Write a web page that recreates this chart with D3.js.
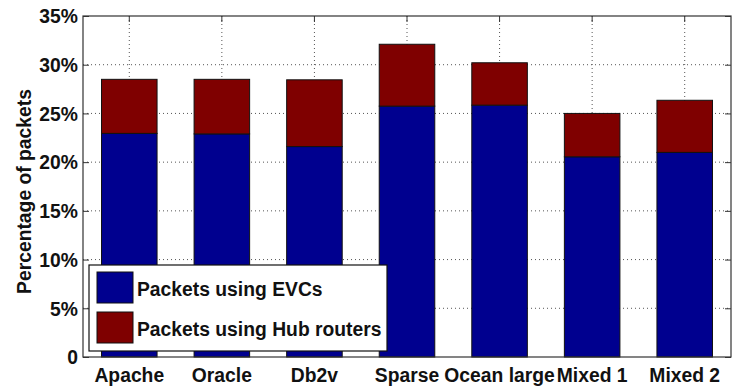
<!DOCTYPE html>
<html>
<head>
<meta charset="utf-8">
<script src="https://cdn.jsdelivr.net/npm/d3@7"></script>
<style>
  body { margin: 0; background: #fff; }
  text { font-family: "Liberation Sans", Arial, sans-serif; font-weight: bold; }
</style>
</head>
<body>
<svg></svg>
<script>
var margin = {top: 16, left: 83, bottom: 34, right: 16};
var width = 747 - margin.left - margin.right;
var height = 391 - margin.top - margin.bottom;

var categories = ["Apache", "Oracle", "Db2v", "Sparse", "Ocean large", "Mixed 1", "Mixed 2"];
var evcs = [22.95, 22.9, 21.6, 25.75, 25.85, 20.55, 21.0];
var hub = [5.55, 5.6, 6.85, 6.35, 4.35, 4.45, 5.35];
var yTicks = [0, 5, 10, 15, 20, 25, 30, 35];
var yTickLabels = ["0", "5%", "10%", "15%", "20%", "25%", "30%", "35%"];
var seriesNames = ["Packets using EVCs", "Packets using Hub routers"];
var colors = ["#00008f", "#7f0000"];

var fontSize = 21;
var squeeze = 0.92; // narrow-looking font in the original

var svg = d3.select("svg")
  .attr("width", 747)
  .attr("height", 391)
  .append("g")
  .attr("transform", "translate(" + margin.left + "," + margin.top + ")");

var x = d3.scaleBand()
  .domain(categories)
  .range([0, width])
  .paddingInner(0.4)
  .paddingOuter(0.2);

var y = d3.scaleLinear()
  .domain([0, 35])
  .range([height, 0]);

// grid
svg.append("g")
  .selectAll("line")
  .data(yTicks.slice(1, -1))
  .enter().append("line")
  .attr("x1", 0).attr("x2", width)
  .attr("y1", function (d) { return y(d); })
  .attr("y2", function (d) { return y(d); })
  .attr("stroke", "#555")
  .attr("stroke-width", 1)
  .attr("stroke-dasharray", "1,3");

svg.append("g")
  .selectAll("line")
  .data(categories)
  .enter().append("line")
  .attr("x1", function (d) { return x(d) + x.bandwidth() / 2; })
  .attr("x2", function (d) { return x(d) + x.bandwidth() / 2; })
  .attr("y1", 0).attr("y2", height)
  .attr("stroke", "#555")
  .attr("stroke-width", 1)
  .attr("stroke-dasharray", "1,3");

// stacked bars
var rows = categories.map(function (c, i) { return {cat: c, evc: evcs[i], hub: hub[i]}; });
var stacked = d3.stack().keys(["evc", "hub"])(rows);

svg.append("g")
  .selectAll("g")
  .data(stacked)
  .enter().append("g")
  .attr("fill", function (d, i) { return colors[i]; })
  .selectAll("rect")
  .data(function (d) { return d; })
  .enter().append("rect")
  .attr("x", function (d) { return x(d.data.cat); })
  .attr("y", function (d) { return y(d[1]); })
  .attr("width", x.bandwidth())
  .attr("height", function (d) { return y(d[0]) - y(d[1]); })
  .attr("stroke", "#111")
  .attr("stroke-width", 1);

// axes box
svg.append("rect")
  .attr("width", width)
  .attr("height", height)
  .attr("fill", "none")
  .attr("stroke", "#333")
  .attr("stroke-width", 1.2);

var yAxis = d3.axisLeft(y)
  .tickValues(yTicks)
  .tickFormat(function (d, i) { return yTickLabels[i]; })
  .tickSizeInner(-6)
  .tickSizeOuter(0)
  .tickPadding(5);

var yg = svg.append("g").call(yAxis);
yg.select(".domain").remove();
yg.selectAll("line").attr("stroke", "#333");
yg.selectAll("text")
  .attr("font-size", fontSize).attr("fill", "#111")
  .attr("font-family", "Liberation Sans, Arial, sans-serif")
  .attr("x", -5 / squeeze)
  .attr("transform", "scale(" + squeeze + ",1)");

var yg2 = svg.append("g")
  .attr("transform", "translate(" + width + ",0)")
  .call(d3.axisRight(y).tickValues(yTicks).tickSizeInner(-6).tickSizeOuter(0).tickFormat(""));
yg2.select(".domain").remove();
yg2.selectAll("line").attr("stroke", "#333");

var xAxis = d3.axisBottom(x).tickSize(0).tickPadding(10);
var xg = svg.append("g")
  .attr("transform", "translate(0," + height + ")")
  .call(xAxis);
xg.select(".domain").remove();
xg.selectAll("text")
  .attr("font-size", fontSize).attr("fill", "#111")
  .attr("font-family", "Liberation Sans, Arial, sans-serif")
  .attr("transform", "scale(" + squeeze + ",1)");

var xg2 = svg.append("g")
  .call(d3.axisTop(x).tickSizeInner(-6).tickSizeOuter(0).tickFormat(""));
xg2.select(".domain").remove();
xg2.selectAll("line").attr("stroke", "#333");

// y label
svg.append("text")
  .attr("transform", "translate(" + (-52) + "," + (height / 2 + 5) + ") rotate(-90) scale(" + squeeze + ",1)")
  .attr("text-anchor", "middle")
  .attr("font-size", fontSize)
  .attr("fill", "#111")
  .text("Percentage of packets");

// legend
var legend = svg.append("g")
  .attr("transform", "translate(" + (89 - margin.left) + "," + (265 - margin.top) + ")");

legend.append("rect")
  .attr("width", 298)
  .attr("height", 86)
  .attr("fill", "#fff")
  .attr("stroke", "#111")
  .attr("stroke-width", 1.2);

var items = legend.selectAll(".item")
  .data(seriesNames)
  .enter().append("g")
  .attr("class", "item")
  .attr("transform", function (d, i) { return "translate(8," + (7 + i * 40) + ")"; });

items.append("rect")
  .attr("width", 36)
  .attr("height", 31)
  .attr("fill", function (d, i) { return colors[i]; })
  .attr("stroke", "#111")
  .attr("stroke-width", 1);

items.append("text")
  .attr("transform", "translate(40,24) scale(" + squeeze + ",1)")
  .attr("font-size", fontSize)
  .attr("fill", "#111")
  .text(function (d) { return d; });
</script>
</body>
</html>
